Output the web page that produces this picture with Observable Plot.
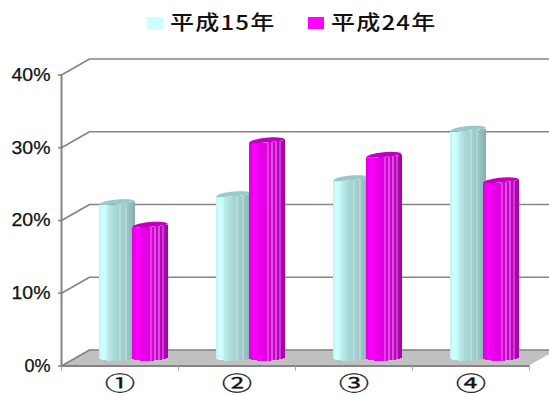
<!DOCTYPE html>
<html>
<head>
<meta charset="utf-8">
<script src="https://cdn.jsdelivr.net/npm/d3@7"></script>
<script src="https://cdn.jsdelivr.net/npm/@observablehq/plot@0.6"></script>
<style>
  html, body { margin: 0; padding: 0; background: #fff; overflow: hidden; }
  #legend { position: relative; width: 549px; height: 40px; font-family: "Noto Sans CJK JP", sans-serif; font-weight: 500; color: #111; }
  #legend i { position: absolute; top: 17px; width: 16px; height: 12px; }
  #legend span { position: absolute; top: 8px; font-size: 20px; line-height: 28px; letter-spacing: 1px; white-space: nowrap; transform: scaleX(1.2); transform-origin: left center; }
  #chart svg { display: block; }
</style>
</head>
<body>
<div id="legend"></div>
<div id="chart"></div>
<script>
// Survey shares by item, two survey years
const categories = ["①", "②", "③", "④"];
const seriesNames = ["平成15年", "平成24年"];
const heisei15 = [21.2, 22.3, 24.5, 31.3];
const heisei24 = [18.1, 29.7, 27.7, 24.2];
const swatchColors = ["#ccffff", "#ff00ff"];
const yTicks = [0, 10, 20, 30, 40];

// Facet shades from the left to the right edge of each cylinder
const tealFacets = ["#c4f4f4", "#ccffff", "#ccffff", "#c6f8f8", "#bcecec", "#b6e6e6", "#b0dfdf", "#acdada", "#a8d6d6", "#a6d2d2", "#b4dcdc", "#a2cece", "#9ecaca", "#b0d6d6", "#98c4c4", "#94bebe", "#90b8b8", "#88aeae"];
const magentaFacets = ["#e000e0", "#f000f0", "#ff00ff", "#f400f4", "#ee00ee", "#e800e8", "#e600e6", "#e400e4", "#e000e0", "#e040e0", "#d800d8", "#e050e0", "#cc00cc", "#d850d8", "#c000c0", "#c840c8", "#b400b4", "#a800a8"];
const capColors = ["#99c9c9", "#c000c0"];
const gridColor = "#848484";

// Oblique projection: a unit of depth shifts a point right and up, in scale units
const pxX = 1 / 117, pxY = 40 / 291;
const depthX = 28 * pxX, depthY = 16 * pxY;
const radius = 18 * pxX, pairOffset = 16.5 * pxX;
const baseLevel = depthY / 2;

const samples = d3.range(-1, 1.0001, 1 / 18);

function slats(values, facets, sign) {
  return values.flatMap((v, i) => {
    const cx = i + 0.5 + depthX / 2 + sign * pairOffset;
    return facets.map((fill, k) => {
      const a = -1 + k / 9, b = a + 1 / 9, t = (a + b) / 2, arc = Math.sqrt(1 - t * t);
      return {
        x1: cx + a * radius, x2: cx + b * radius, fill,
        y1: baseLevel + t * 0.6 * pxY - arc * 3.2 * pxY,
        y2: baseLevel + v + t * 1.6 * pxY - arc * 1.0 * pxY
      };
    });
  });
}

function caps(values, fill, sign) {
  return values.flatMap((v, i) => {
    const cx = i + 0.5 + depthX / 2 + sign * pairOffset;
    return samples.map((t) => {
      const arc = Math.sqrt(Math.max(0, 1 - t * t));
      return {
        id: i, fill, x: cx + t * radius,
        y1: baseLevel + v + t * 1.6 * pxY - arc * 1.0 * pxY,
        y2: baseLevel + v + t * 1.6 * pxY + arc * 3.8 * pxY
      };
    });
  });
}

// Wall lines run from the front axis back along the depth, then across the wall
const wallLines = yTicks.flatMap((v) => [
  {v, x: 0, y: v},
  {v, x: depthX, y: v + depthY},
  {v, x: 4 + depthX, y: v + depthY}
]);

const chart = Plot.plot({
  width: 549,
  height: 355,
  marginLeft: 61,
  marginRight: 20,
  marginTop: 34.5,
  marginBottom: 29.5,
  x: {type: "linear", domain: [0, 4]},
  y: {domain: [0, 40]},
  color: {type: "identity"},
  style: {fontFamily: "'Liberation Sans', sans-serif", background: "#fff"},
  marks: [
    Plot.area([
      {x1: 0, y1: 0, x2: depthX, y2: depthY},
      {x1: 4, y1: 0, x2: 4 + depthX, y2: depthY}
    ], {x1: "x1", y1: "y1", x2: "x2", y2: "y2", fill: "#c0c0c0"}),
    Plot.line(wallLines, {x: "x", y: "y", z: "v", stroke: gridColor, strokeWidth: 1.6}),
    Plot.ruleX([0], {y1: 0, y2: 40, stroke: gridColor, strokeWidth: 2}),
    Plot.ruleY([0], {x1: 0, x2: 4, stroke: gridColor, strokeWidth: 2}),
    Plot.axisX({ticks: [0, 1, 2, 3, 4], tickFormat: () => "", tickSize: 5, stroke: "#a0a0a0", label: null}),
    Plot.axisY({ticks: yTicks, tickFormat: (d) => d + "%", tickSize: 3, tickPadding: 8, stroke: gridColor, strokeWidth: 1.6, fontSize: 18, fill: "#111", label: null}),
    Plot.text(categories, {
      x: (d, i) => i + 0.5,
      frameAnchor: "bottom",
      lineAnchor: "middle",
      dy: 19,
      text: (d) => d,
      fontSize: 20,
      fontFamily: "'Noto Sans CJK JP', sans-serif",
      fill: "#111"
    }),
    Plot.rect(slats(heisei15, tealFacets, -1), {x1: "x1", x2: "x2", y1: "y1", y2: "y2", fill: "fill", shapeRendering: "crispEdges"}),
    Plot.area(caps(heisei15, capColors[0], -1), {x1: "x", y1: "y1", y2: "y2", z: "id", fill: "fill"}),
    Plot.rect(slats(heisei24, magentaFacets, 1), {x1: "x1", x2: "x2", y1: "y1", y2: "y2", fill: "fill", shapeRendering: "crispEdges"}),
    Plot.area(caps(heisei24, capColors[1], 1), {x1: "x", y1: "y1", y2: "y2", z: "id", fill: "fill"})
  ]
});

// The labels on this chart are set wide
const svg = d3.select(chart);
svg.selectAll("text").filter(function () { return categories.includes(this.textContent); })
  .attr("textLength", 30).attr("lengthAdjust", "spacingAndGlyphs")
  .attr("stroke", "#111").attr("stroke-width", 0.3);
svg.selectAll("text").filter(function () { return /%$/.test(this.textContent); })
  .attr("textLength", function () { return this.textContent.length === 3 ? 39 : 26; })
  .attr("lengthAdjust", "spacingAndGlyphs")
  .attr("stroke", "#111").attr("stroke-width", 0.25);

document.getElementById("chart").append(chart);

// Legend above the plot
const legend = d3.select("#legend");
[[147, 170], [308, 331]].forEach(([swatchX, textX], i) => {
  legend.append("i").style("left", swatchX + "px").style("background", swatchColors[i]);
  legend.append("span").style("left", textX + "px").text(seriesNames[i]);
});
</script>
</body>
</html>
